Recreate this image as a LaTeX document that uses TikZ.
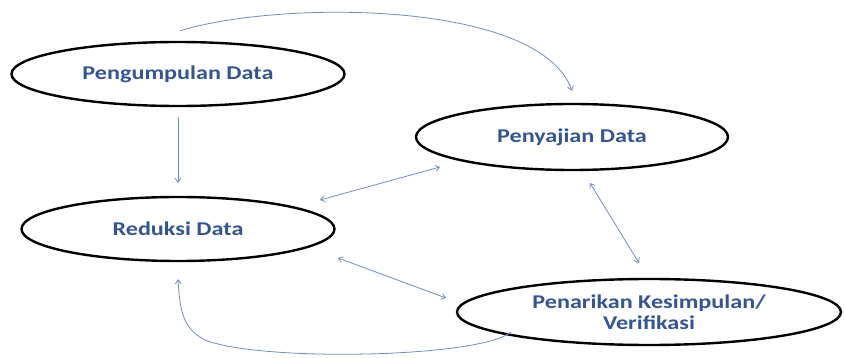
\documentclass[tikz,border=0pt]{standalone}
\usepackage{fontspec}
\setmainfont{Carlito}[FakeStretch=1.24]
\usetikzlibrary{shapes.geometric,arrows.meta,calc}
\definecolor{txtblue}{RGB}{52,85,145}
\definecolor{arrblue}{RGB}{115,140,180}
\tikzset{
  oval/.style={ellipse, draw=black, line width=2.4pt, inner sep=0pt, fill=white,
    font=\fontsize{19.5}{20.5}\selectfont\bfseries, text=txtblue, align=center},
  conn/.style={draw=arrblue, line width=0.8pt, -{Straight Barb[length=4pt,width=6pt]}},
  bconn/.style={draw=arrblue, line width=0.8pt, {Straight Barb[length=4pt,width=6pt]}-{Straight Barb[length=4pt,width=6pt]}}
}
\begin{document}
\begin{tikzpicture}[x=1pt,y=-1pt]
\useasboundingbox (0,0) rectangle (844,358);
\node[oval, minimum width=333pt, minimum height=64pt] (p) at (178,74) {Pengumpulan Data};
\node[oval, minimum width=312pt, minimum height=66pt] (y) at (572,137) {Penyajian Data};
\node[oval, minimum width=313pt, minimum height=64pt] (r) at (178,229) {Reduksi Data};
\node[oval, minimum width=384pt, minimum height=66pt] (k) at (649,312) {Penarikan Kesimpulan/\\Verifikasi};

\draw[conn] ($(p.north)+(2,-10)$) .. controls (280,0) and (540,0) .. ($(y.north)+(0,-12)$);
\draw[conn] ($(p.south)+(0,10)$) -- ($(r.north)+(0,-13)$);
\draw[bconn] ($(r.center)+(142,-29)$) -- ($(y.center)+(-132,30)$);
\draw[bconn] ($(y.center)+(18,46)$) -- ($(k.center)+(-10,-49)$);
\draw[bconn] ($(r.center)+(160,29)$) -- ($(k.center)+(-203,-14)$);
\draw[conn] ($(k.center)+(-138,20)$) .. controls (480,358) and (260,362) .. (205,340)
  .. controls (182,328) and (180,310) .. ($(r.south)+(0,17)$);
\end{tikzpicture}
\end{document}
